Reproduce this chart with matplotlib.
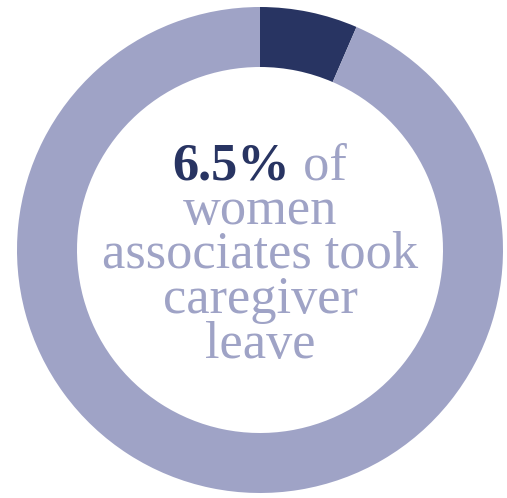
import matplotlib
matplotlib.use("Agg")
import matplotlib.pyplot as plt

# Data
labels = ["Took caregiver leave", "Did not"]
values = [6.5, 93.5]
colors = ["#283462", "#9fa3c6"]
headline_value = "6.5%"
headline_rest = " of"
text_lines = ["women", "associates took", "caregiver", "leave"]

W, H = 507, 498
fig = plt.figure(figsize=(W / 100, H / 100), dpi=100)
ax = fig.add_axes([0, 0, 1, 1])

cx, cy = 260, H - 250
R = 243
ring = 60
ax.pie(values, colors=colors, startangle=90, counterclock=False,
       radius=R, center=(cx, cy),
       wedgeprops=dict(width=ring, linewidth=0))
ax.set_xlim(0, W)
ax.set_ylim(0, H)
ax.set_aspect("equal")
ax.axis("off")

family = "Liberation Serif"
light = colors[1]
dark = colors[0]

renderer = fig.canvas.get_renderer()

target_w = 316
probe = ax.text(0, 0, "associates took", family=family, fontsize=30)
w30 = probe.get_window_extent(renderer).width
probe.remove()
fs = 30 * target_w / w30

baselines = [179, 224, 268, 313, 358]

t1 = ax.text(0, H - baselines[0], headline_value, family=family, fontsize=fs,
             fontweight="bold", color=dark, ha="left", va="baseline")
t2 = ax.text(0, H - baselines[0], headline_rest, family=family, fontsize=fs,
             color=light, ha="left", va="baseline")
w1 = t1.get_window_extent(renderer).width
w2 = t2.get_window_extent(renderer).width
x0 = cx - (w1 + w2) / 2
t1.set_x(x0)
t2.set_x(x0 + w1)

for line, b in zip(text_lines, baselines[1:]):
    ax.text(cx, H - b, line, family=family, fontsize=fs, color=light,
            ha="center", va="baseline")

fig.savefig("out.png", dpi=100, facecolor="white")
